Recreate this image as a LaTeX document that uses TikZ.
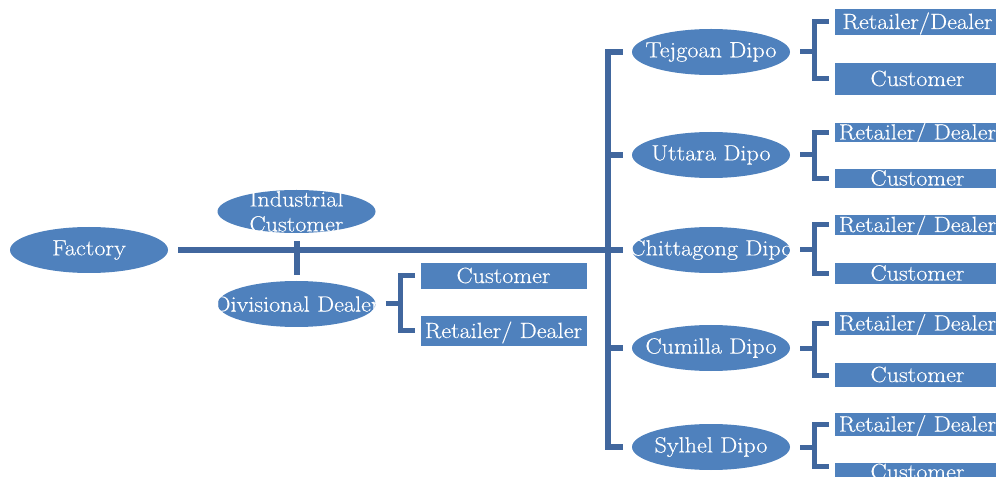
\documentclass[tikz,border=0pt]{standalone}
\usepackage{fontspec}
\setmainfont{Latin Modern Roman}[FakeStretch=1.1, FakeBold=0.4]
\usetikzlibrary{shapes.geometric}
\definecolor{boxblue}{RGB}{79,129,189}
\definecolor{lineblue}{RGB}{65,103,158}
\tikzset{
    txt/.style={text=white, font=\fontsize{16.5}{18.75}\selectfont, inner sep=0pt, align=center},
    oval/.style={ellipse, fill=boxblue, inner sep=0pt, minimum width=118.5pt, minimum height=34.5pt},
    box/.style={rectangle, fill=boxblue, text=white, font=\fontsize{16.5}{18.75}\selectfont, inner sep=0pt, minimum width=124.5pt, text height=11.5pt, text depth=1pt},
    trunk/.style={draw=lineblue, line width=4.5pt},
    brace/.style={draw=lineblue, line width=3.75pt}
}
\begin{document}
\begin{tikzpicture}[x=0.75pt, y=-0.75pt]
                    \useasboundingbox (0, 0) rectangle (996, 477);

                    % 工場と販売店
                    \node[oval, label={[txt]center:Factory}] (fac) at (89, 250) {};
                    \node[oval, minimum height=32.25pt, label={[txt]center:Industrial\\Customer}] (ind) at (296.5, 211.5) {};
                    \node[oval, label={[txt]center:Divisional Dealer}] (div) at (296.5, 304) {};
                    \node[box, minimum height=19.5pt] (cus) at (503.5, 276) {Customer};
                    \node[box, minimum height=22.5pt] (ret) at (503.5, 331) {Retailer/ Dealer};

                    % 倉庫
                    \node[oval, label={[txt]center:Tejgoan Dipo}] (tej) at (711, 52) {};
                    \node[oval, label={[txt]center:Uttara Dipo}] (utt) at (711, 155) {};
                    \node[oval, label={[txt]center:Chittagong Dipo}] (chi) at (711, 250) {};
                    \node[oval, label={[txt]center:Cumilla Dipo}] (cum) at (711, 348) {};
                    \node[oval, label={[txt]center:Sylhel Dipo}] (syl) at (711, 447) {};

                    % 右の箱
                    \node[box, minimum height=19.5pt] (tejR) at (917.5, 22) {Retailer/Dealer};
                    \node[box, minimum height=24pt] (tejC) at (917.5, 79) {Customer};
                    \node[box, minimum height=14.25pt] (uttR) at (917.5, 132.5) {Retailer/ Dealer};
                    \node[box, minimum height=14.25pt] (uttC) at (917.5, 178.5) {Customer};
                    \node[box, minimum height=15pt] (chiR) at (917.5, 225) {Retailer/ Dealer};
                    \node[box, minimum height=15.75pt] (chiC) at (917.5, 273.5) {Customer};
                    \node[box, minimum height=17.25pt] (cumR) at (917.5, 323.5) {Retailer/ Dealer};
                    \node[box, minimum height=18pt] (cumC) at (917.5, 375) {Customer};
                    \node[box, minimum height=17.25pt] (sylR) at (917.5, 424.5) {Retailer/ Dealer};
                    \node[box, minimum height=13.5pt] (sylC) at (917.5, 472) {Customer};

                    % 幹線
                    \coordinate (spine) at (608, 250);
                    \draw[trunk] ([xshift=7.5pt]fac.east) -- (spine);
                    \draw[trunk] ([yshift=-6pt]ind.south) -- ([yshift=4.5pt]div.north);
                    \draw[trunk] ([xshift=-6.75pt]tej.west) -| (spine) |- ([xshift=-6.75pt]syl.west);
                    \draw[trunk] (spine |- utt) -- ([xshift=-6.75pt]utt.west);
                    \draw[trunk] (spine) -- ([xshift=-6.75pt]chi.west);
                    \draw[trunk] (spine |- cum) -- ([xshift=-6.75pt]cum.west);

                    % 括弧
                    \draw[brace] ([xshift=7.5pt]div.east) -- ++(15, 0);
                    \draw[brace] ([xshift=-3.75pt]cus.west) -- ++(-15, 0) |- ([xshift=-3.75pt]ret.west);
                    \foreach \d in {tej, utt, chi, cum} {
                        \draw[brace] ([xshift=7.5pt]\d.east) -- ++(15, 0);
                        \draw[brace] ([xshift=-3.75pt]\d R.west) -- ++(-15, 0) |- ([xshift=-3.75pt]\d C.west);
                    }
                    \draw[brace] ([xshift=7.5pt]syl.east) -- ++(15, 0);
                    \draw[brace] ([xshift=-3.75pt]sylR.west) -- ++(-15, 0) |- ([xshift=-3.75pt, yshift=-3pt]sylC.north west);

                \end{tikzpicture}
\end{document}
